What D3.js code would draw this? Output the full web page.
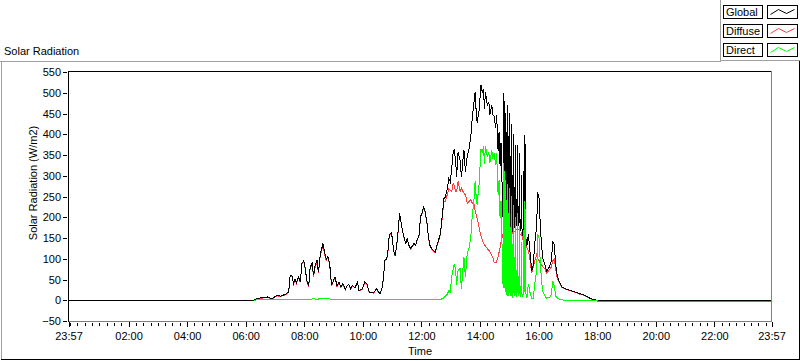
<!DOCTYPE html>
<html>
<head>
<meta charset="utf-8">
<script src="https://cdn.jsdelivr.net/npm/d3@7"></script>
<style>
  body { margin: 0; background: #fff; }
  svg { display: block; font-family: "Liberation Sans", Arial, sans-serif; font-size: 11px; }
  .data { fill: none; stroke-width: 1; shape-rendering: crispEdges; }
</style>
</head>
<body>
<div id="chart"></div>
<script>
// minutes after midnight (-3 = 23:57 of the day before)
const minutes = [
  -3, 376, 383, 393, 404, 414, 424, 431, 441, 448,
  451, 455, 458, 461, 464, 468, 472, 475, 479, 482,
  485, 489, 492, 496, 499, 502, 506, 509, 513, 516,
  518, 521, 525, 528, 532, 534, 536, 540, 543, 547,
  551, 555, 559, 564, 567, 571, 575, 579, 584, 589,
  592, 598, 604, 608, 613, 622, 628, 632, 635, 639,
  642, 645, 649, 652, 654, 658, 660, 663, 666, 669,
  673, 675, 677, 681, 684, 688, 691, 694, 698, 701,
  705, 708, 711, 715, 718, 722, 724, 727, 731, 734,
  737, 741, 744, 748, 751, 754, 759, 763, 766, 769,
  773, 776, 779, 782, 785, 787, 790, 792, 795, 799,
  802, 804, 807, 810, 814, 817, 821, 824, 827, 830,
  832, 834, 838, 842, 845, 847, 849, 851, 855, 858,
  860, 864, 866, 869, 872, 874, 877, 879, 881, 883,
  885, 887, 888, 889, 890, 892, 893, 894, 896, 897,
  898, 900, 901, 902, 904, 905, 906, 908, 909, 910,
  912, 913, 914, 916, 917, 918, 920, 921, 922, 924,
  925, 926, 928, 929, 930, 932, 933, 934, 936, 939,
  942, 946,
  949, 952, 956, 958, 961, 963, 966, 969, 973, 976,
  980, 983, 986, 989, 992, 995, 998, 1001, 1007, 1014,
  1024, 1034, 1044, 1055, 1065, 1075, 1082, 1437
];

const globalRad = [
  0, 0, 4, 6, 8, 4, 12, 10, 14, 20,
  60, 58, 40, 50, 42, 56, 44, 89, 95, 76,
  48, 34, 79, 90, 60, 82, 96, 68, 114, 125,
  138, 119, 98, 106, 89, 60, 36, 48, 56, 34,
  44, 32, 40, 26, 34, 39, 28, 36, 30, 44,
  24, 26, 44, 40, 20, 18, 28, 20, 16, 28,
  52, 96, 100, 124, 157, 162, 152, 120, 108, 129,
  177, 209, 197, 169, 153, 137, 149, 133, 124, 130,
  137, 133, 145, 157, 201, 213, 225, 217, 189, 157,
  133, 124, 120, 116, 129, 141, 161, 209, 245, 249,
  269, 293, 285, 318, 358, 364, 336, 298, 358, 338,
  296, 326, 362, 310, 350, 362, 394, 439, 471, 502,
  456, 428, 456, 519, 499, 510, 462, 502, 470, 478,
  447, 471, 447, 443, 416, 447, 359, 406, 324, 380,
  284, 200, 195, 500, 210, 188, 450, 180, 185, 470,
  190, 195, 452, 180, 170, 424, 165, 182, 400, 175,
  180, 374, 178, 192, 375, 180, 187, 354, 166, 180,
  302, 164, 155, 312, 153, 398, 180, 149, 131, 160,
  120, 70,
  85, 135, 180, 260, 245, 190, 130, 100, 85, 70,
  76, 83, 95, 140, 135, 85, 61, 48, 33, 28,
  24, 20, 16, 12, 5, 1, 0, 0
];

const diffuseRad = [
  null, 0, 3, 5, 7, 3, 11, 9, 13, 19,
  59, 56, 39, 49, 41, 55, 43, 88, 93, 75,
  47, 33, 77, 87, 56, 79, 93, 65, 110, 121,
  133, 115, 95, 102, 86, 58, 35, 47, 55, 33,
  43, 31, 39, 25, 33, 38, 27, 35, 29, 43,
  23, 25, 42, 39, 19, 17, 27, 19, 15, 27,
  51, 95, 99, 123, 156, 160, 151, 119, 107, 128,
  175, 207, 196, 168, 152, 136, 148, 132, 123, 129,
  136, 132, 144, 155, 199, 211, 223, 215, 187, 155,
  131, 122, 118, 114, 127, 138, 159, 205, 239, 239,
  255, 269, 265, 262, 282, 276, 262, 262, 286, 262,
  270, 264, 258, 254, 234, 238, 242, 234, 238, 214,
  206, 198, 176, 154, 144, 138, 134, 130, 124, 120,
  117, 109, 103, 91, 90, 93, 105, 116, 126, 140,
  150, 160, 165, 170, 170, 168, 160, 165, 175, 190,
  180, 175, 182, 165, 160, 174, 160, 162, 170, 165,
  165, 174, 170, 172, 165, 170, 172, 174, 158, 160,
  162, 155, 145, 142, 138, 160, 140, 134, 126, 120,
  100, 65,
  80, 95, 110, 100, 95, 90, 85, 80, 75, 65,
  70, 75, 80, 95, 100, 75, 55, 45, 32, 27,
  23, 19, 15, 11, 4, 0, -3, -3
];

const directRad = [
  null, 0, 1, 1, 1, 1, 1, 1, 1, 1,
  1, 2, 1, 1, 1, 1, 1, 1, 2, 1,
  1, 1, 2, 3, 4, 3, 3, 3, 4, 4,
  5, 4, 3, 4, 3, 2, 1, 1, 1, 1,
  1, 1, 1, 1, 1, 1, 1, 1, 1, 1,
  1, 1, 2, 1, 1, 1, 1, 1, 1, 1,
  1, 1, 1, 1, 1, 2, 1, 1, 1, 1,
  2, 2, 1, 1, 1, 1, 1, 1, 1, 1,
  1, 1, 1, 2, 2, 2, 2, 2, 2, 2,
  2, 2, 2, 2, 2, 3, 2, 4, 6, 10,
  14, 24, 20, 56, 76, 88, 74, 36, 72, 76,
  26, 62, 104, 56, 116, 124, 152, 205, 233, 288,
  250, 230, 280, 365, 355, 372, 328, 372, 346, 358,
  330, 362, 344, 352, 326, 354, 254, 290, 198, 240,
  134, 40, 30, 330, 40, 20, 290, 15, 10, 280,
  10, 20, 270, 15, 10, 250, 5, 20, 230, 10,
  15, 200, 8, 20, 210, 10, 15, 180, 8, 20,
  140, 9, 10, 170, 15, 238, 40, 15, 5, 40,
  20, 5,
  5, 40, 70, 160, 150, 100, 45, 20, 10, 5,
  6, 8, 15, 45, 35, 10, 6, 3, 1, 0,
  0, 0, 0, 0, 0, 0, 0, null
];

const yTicks = [-50, 0, 50, 100, 150, 200, 250, 300, 350, 400, 450, 500, 550];
const xMajor = [-3, 120, 240, 360, 480, 600, 720, 840, 960, 1080, 1200, 1320, 1437];
const xLabels = ["23:57", "02:00", "04:00", "06:00", "08:00", "10:00", "12:00",
  "14:00", "16:00", "18:00", "20:00", "22:00", "23:57"];
const seriesNames = ["Global", "Diffuse", "Direct"];
const seriesColors = ["#000000", "#ff4040", "#00ff00"];

const width = 800;
const height = 361;
const plot = { left: 68.5, right: 771.5, top: 72, bottom: 321 };

const svg = d3.select("#chart")
  .append("svg")
  .attr("width", width)
  .attr("height", height);

svg.append("rect").attr("width", width).attr("height", height).attr("fill", "#fff");

const x = d3.scaleLinear().domain([-3, 1437]).range([plot.left, plot.right]);
const y = d3.scaleLinear().domain([-50, 550]).range([plot.bottom, plot.top]);

// panel frame
const frame = svg.append("g").attr("shape-rendering", "crispEdges");
frame.append("line").attr("x1", 0).attr("x2", 721).attr("y1", 61.5).attr("y2", 61.5).attr("stroke", "#a0a0a0");
frame.append("line").attr("x1", 1.5).attr("x2", 1.5).attr("y1", 61).attr("y2", 360).attr("stroke", "#a0a0a0");
frame.append("line").attr("x1", 1).attr("x2", 800).attr("y1", 359.5).attr("y2", 359.5).attr("stroke", "#000");
frame.append("line").attr("x1", 799.5).attr("x2", 799.5).attr("y1", 61).attr("y2", 360).attr("stroke", "#000");

// legend panel
frame.append("line").attr("x1", 720.5).attr("x2", 720.5).attr("y1", 0).attr("y2", 61).attr("stroke", "#a0a0a0");
frame.append("line").attr("x1", 720).attr("x2", 800).attr("y1", 60.5).attr("y2", 60.5).attr("stroke", "#a0a0a0");

svg.append("text").attr("x", 4).attr("y", 55).text("Solar Radiation");

// plot box
const box = svg.append("g").attr("shape-rendering", "crispEdges");
box.append("line").attr("x1", plot.left).attr("x2", plot.right).attr("y1", 71.5).attr("y2", 71.5).attr("stroke", "#000");
box.append("line").attr("x1", plot.left).attr("x2", plot.left).attr("y1", 71).attr("y2", 322).attr("stroke", "#000");
box.append("line").attr("x1", plot.right).attr("x2", plot.right).attr("y1", 71).attr("y2", 322).attr("stroke", "#808080");
box.append("line").attr("x1", plot.left).attr("x2", plot.right + 0.5).attr("y1", 321.5).attr("y2", 321.5).attr("stroke", "#808080");

// y axis
const yAxis = svg.append("g")
  .attr("transform", "translate(67,0)")
  .attr("shape-rendering", "crispEdges")
  .call(d3.axisLeft(y).tickValues(yTicks).tickSize(4).tickPadding(2).tickSizeOuter(0));
yAxis.select(".domain").remove();
yAxis.selectAll("text").attr("font-family", "Liberation Sans, Arial, sans-serif").attr("font-size", 11).attr("fill", "#000");

svg.append("text")
  .attr("transform", "translate(37,183) rotate(-90)")
  .attr("text-anchor", "middle")
  .text("Solar Radiation (W/m2)");

// x axis
const xMinor = d3.range(0, 1440, 15).filter(m => !xMajor.includes(m));
const xAxisMinor = svg.append("g")
  .attr("transform", "translate(0,323)")
  .attr("shape-rendering", "crispEdges")
  .call(d3.axisBottom(x).tickValues(xMinor).tickSize(3).tickFormat("").tickSizeOuter(0));
xAxisMinor.select(".domain").remove();

const xAxis = svg.append("g")
  .attr("transform", "translate(0,322)")
  .attr("shape-rendering", "crispEdges")
  .call(d3.axisBottom(x).tickValues(xMajor).tickSize(5).tickPadding(5)
    .tickFormat((d, i) => xLabels[i]).tickSizeOuter(0));
xAxis.select(".domain").remove();
xAxis.selectAll("text").attr("font-family", "Liberation Sans, Arial, sans-serif").attr("font-size", 11).attr("fill", "#000");

svg.append("text")
  .attr("x", (plot.left + plot.right) / 2)
  .attr("y", 355)
  .attr("text-anchor", "middle")
  .text("Time");

// data lines
svg.append("clipPath").attr("id", "clip")
  .append("rect")
  .attr("x", plot.left + 0.5).attr("y", 72)
  .attr("width", plot.right - plot.left - 1).attr("height", plot.bottom - 72);

const series = [globalRad, diffuseRad, directRad].map((vals, k) => ({
  name: seriesNames[k],
  color: seriesColors[k],
  points: minutes.map((m, i) => ({ m: m, v: vals[i] }))
}));

const line = d3.line()
  .defined(d => d.v !== null)
  .x(d => x(d.m))
  .y(d => y(d.v));

// diffuse under global, direct on top
const drawOrder = [1, 0, 2];
svg.append("g").attr("clip-path", "url(#clip)")
  .selectAll("path")
  .data(drawOrder.map(k => series[k]))
  .join("path")
  .attr("class", "data")
  .attr("stroke", d => d.color)
  .attr("d", d => line(d.points));

// legend
const legend = svg.append("g").attr("shape-rendering", "crispEdges");
const glyph = [[3, 9], [11, 4], [19, 8], [27, 4]];
series.forEach((s, i) => {
  const top = 5.5 + i * 19;
  const g = legend.append("g");
  g.append("rect").attr("x", 723.5).attr("y", top).attr("width", 39).attr("height", 13)
    .attr("fill", "#fff").attr("stroke", "#000");
  g.append("text").attr("x", 726).attr("y", top + 10.5).text(s.name);
  g.append("rect").attr("x", 767.5).attr("y", top).attr("width", 30).attr("height", 13)
    .attr("fill", "#fff").attr("stroke", "#000");
  g.append("path")
    .attr("d", d3.line()(glyph.map(p => [767.5 + p[0], top + p[1]])))
    .attr("fill", "none").attr("stroke", s.color).attr("shape-rendering", "auto");
});
</script>
</body>
</html>
